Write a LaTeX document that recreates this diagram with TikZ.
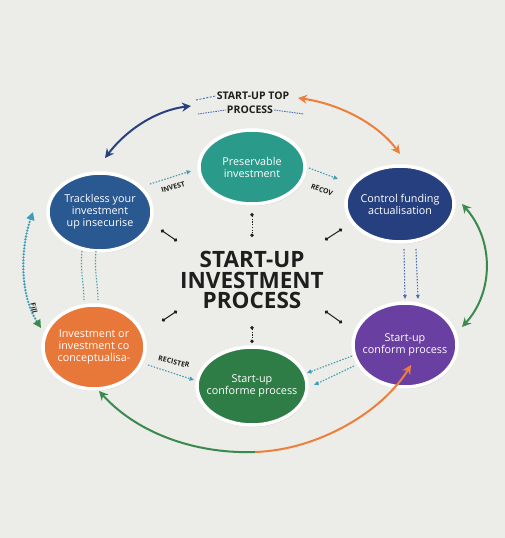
\documentclass[tikz,border=0pt]{standalone}
\usepackage{fontspec}
\setmainfont{Open Sans}
\usetikzlibrary{shapes.geometric,arrows.meta,shadows}
\definecolor{bg}{HTML}{ECECE8}
\definecolor{cteal}{HTML}{2A9A8A}
\definecolor{cnavy}{HTML}{263F7E}
\definecolor{cblue}{HTML}{2A5890}
\definecolor{corange}{HTML}{E8783A}
\definecolor{cpurple}{HTML}{6A3FA2}
\definecolor{cgreen}{HTML}{2F7D46}
\definecolor{arcgreen}{HTML}{3A8A4E}
\definecolor{arcorange}{HTML}{EE7F3A}
\definecolor{arcnavy}{HTML}{27417F}
\definecolor{dteal}{HTML}{3F9DB5}
\definecolor{dblue}{HTML}{4A6DB5}
\definecolor{txt}{HTML}{1E1E1E}
\tikzset{
  stage/.style={ellipse, draw=white, line width=3.5pt, inner sep=-14pt, text=white, align=center,
    font=\fontsize{10.8}{12}\selectfont,
    drop shadow={opacity=0.22, shadow xshift=1pt, shadow yshift=-2pt}},
  spoke/.style={txt, line width=1pt, {Circle[length=3.5pt]}-{Circle[length=3.5pt]}},
  spokev/.style={txt, line width=1pt, dash pattern=on 1.2pt off 1.5pt, {Circle[length=3.5pt]}-{Circle[length=3.5pt]}},
  flow/.style={dteal, line width=1.1pt, dash pattern=on 1.5pt off 1.5pt, -{Triangle[length=4.5pt,width=4pt]}},
  flowplain/.style={dteal, line width=1.1pt, dash pattern=on 1.5pt off 1.5pt},
  flowblue/.style={dblue, line width=1.1pt, dash pattern=on 1.5pt off 1.5pt, -{Triangle[length=4pt,width=3.5pt]}},
  arc/.style={line width=2pt},
  tiplabel/.style={font=\bfseries\fontsize{7}{8}\selectfont, text=txt, inner sep=1pt},
}
\begin{document}
\begin{tikzpicture}[x=1pt,y=-1pt]
\fill[bg] (0,0) rectangle (505,538);
\useasboundingbox (0,0) rectangle (505,538);

% stages
\node[stage, fill=cteal, minimum width=106pt, minimum height=74pt] (top) at (252,167) {Preservable\\investment};
\node[stage, fill=cnavy, minimum width=108pt, minimum height=76pt] (right) at (400,204) {Control funding\\actualisation};
\node[stage, fill=cblue, minimum width=104pt, minimum height=78pt] (left) at (100,212) {Trackless your\\investment\\up insecurise};
\node[stage, fill=corange, minimum width=102pt, minimum height=84pt] (bl) at (94,347) {Investment or\\investment co\\conceptualisa-};
\node[stage, fill=cpurple, minimum width=104pt, minimum height=84pt] (br) at (405,345) {Start-up\\conform process};
\node[stage, fill=cgreen, minimum width=110pt, minimum height=78pt] (bot) at (252,386) {Start-up\\conforme process};

% title
\node[font=\bfseries\fontsize{22.5}{20.5}\selectfont, text=txt, align=center] (title) at (252,280) {START-UP\\INVESTMENT\\PROCESS};

% spokes
\coordinate (s1a) at (252,213); \coordinate (s1b) at (252,237);
\coordinate (s2a) at (252,326); \coordinate (s2b) at (252,343);
\coordinate (s3a) at (161,230); \coordinate (s3b) at (177,241);
\coordinate (s4a) at (325,240); \coordinate (s4b) at (342,229);
\coordinate (s5a) at (162,321); \coordinate (s5b) at (177,311);
\coordinate (s6a) at (325,311); \coordinate (s6b) at (342,323);
\draw[spokev] (s1a) -- (s1b);
\draw[spokev] (s2a) -- (s2b);
\draw[spoke] (s3a) -- (s3b);
\draw[spoke] (s4a) -- (s4b);
\draw[spoke] (s5a) -- (s5b);
\draw[spoke] (s6a) -- (s6b);

% top label
\node[font=\bfseries\fontsize{10.5}{12}\selectfont, text=txt, inner sep=1pt] (tl1) at (253,96) {START-UP TOP};
\node[font=\bfseries\fontsize{10.5}{12}\selectfont, text=txt, inner sep=1pt] (tl2) at (250,110) {PROCESS};
\draw[dblue, line width=0.9pt, dash pattern=on 2pt off 1.5pt] (196,100) -- (tl1.west);
\draw[dblue, line width=0.9pt, dash pattern=on 1.5pt off 1pt] (198,114) -- (tl2.west);
\draw[dblue, line width=0.9pt, dash pattern=on 1.5pt off 1pt] (tl2.east) -- (304,114);

% outer arcs
\coordinate (a1) at (105,158); \coordinate (a2) at (191,106);
\draw[arc, arcnavy, {Stealth[length=9pt,width=9pt]}-{Stealth[length=9pt,width=9pt]}]
  (a1) .. controls (128,128) and (158,110) .. (a2);
\coordinate (b1) at (298,98); \coordinate (b2) at (400,154);
\draw[arc, arcorange, {Stealth[length=9pt,width=9pt]}-{Stealth[length=9pt,width=9pt]}]
  (b1) .. controls (340,104) and (378,124) .. (b2);
\coordinate (c1) at (462,204); \coordinate (c2) at (462,327);
\draw[arc, arcgreen, {Stealth[length=9pt,width=9pt]}-{Stealth[length=9pt,width=9pt]}]
  (c1) .. controls (494,240) and (494,292) .. (c2);
\coordinate (d1) at (99,391); \coordinate (dm) at (255,452); \coordinate (d2) at (411,365);
\draw[arc, arcgreen, {Stealth[length=9pt,width=9pt]}-] (d1) .. controls (140,436) and (200,454) .. (dm);
\draw[arc, arcorange, -{Stealth[length=9pt,width=9pt]}] (dm) .. controls (318,450) and (382,412) .. (d2);
\coordinate (e1) at (33,212); \coordinate (e2) at (41,328);
\draw[dteal, line width=2.6pt, line cap=round, dash pattern=on 0pt off 3pt,
  {Triangle[length=8pt,width=8pt,color=dteal]}-{Triangle[length=8pt,width=8pt,color=arcgreen]}]
  (e1) .. controls (20,250) and (20,295) .. (e2);
\node[tiplabel, rotate=-78] (fill) at (34,308) {Fill};

% inner flows
\coordinate (f1) at (150,184); \coordinate (f2) at (191,171);
\draw[flow] (f1) -- (f2);
\node[tiplabel, rotate=17] (inv) at (173,187) {INVEST};
\coordinate (g1) at (309,168); \coordinate (g2) at (338,179);
\draw[flow] (g1) -- (g2);
\node[tiplabel, rotate=-22] (rec) at (322,190) {RECOV};
\coordinate (h1) at (404,249); \coordinate (h2) at (405,299);
\coordinate (h3) at (416,249); \coordinate (h4) at (418,299);
\draw[flowblue] (h1) -- (h2);
\draw[flowblue] (h3) -- (h4);
\coordinate (i1) at (352,356); \coordinate (i2) at (307,373);
\coordinate (i3) at (354,366); \coordinate (i4) at (314,385);
\draw[flow] (i1) -- (i2);
\draw[flow] (i3) -- (i4);
\coordinate (j1) at (148,365); \coordinate (j2) at (194,380);
\draw[flow] (j1) -- (j2);
\node[tiplabel, rotate=-13] (reg) at (174,362) {RECISTER};
\coordinate (k1) at (82,251); \coordinate (k2) at (84,300);
\coordinate (k3) at (96,251); \coordinate (k4) at (98,300);
\draw[flowplain] (k1) .. controls (80,270) and (84,285) .. (k2);
\draw[flowplain] (k3) .. controls (94,270) and (98,285) .. (k4);
\end{tikzpicture}
\end{document}
